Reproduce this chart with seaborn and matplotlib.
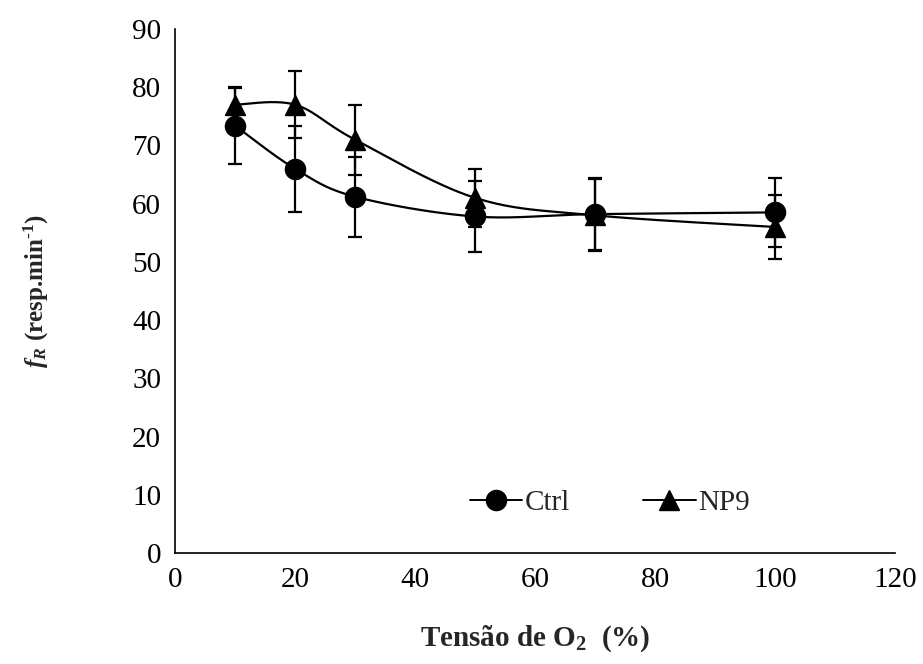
import numpy as np
import pandas as pd
import matplotlib
matplotlib.use("Agg")
import matplotlib.pyplot as plt
import seaborn as sns

# dados
tensao = [10, 20, 30, 50, 70, 100]
ctrl_media = [73.4, 66.0, 61.2, 57.8, 58.2, 58.5]
ctrl_dp = [6.5, 7.4, 6.9, 6.1, 6.2, 5.9]
np9_media = [77.0, 77.0, 71.0, 61.0, 58.0, 56.0]
np9_dp = [3.0, 5.8, 6.0, 5.0, 6.2, 5.5]


# curva suavizada estilo Excel (Catmull-Rom)
def suavizar(x, y, n=40):
    p = np.column_stack([x, y]).astype(float)
    p = np.vstack([p[0], p, p[-1]])
    out = []
    for i in range(1, len(p) - 2):
        p0, p1, p2, p3 = p[i - 1], p[i], p[i + 1], p[i + 2]
        c1 = p1 + (p2 - p0) / 6
        c2 = p2 - (p3 - p1) / 6
        t = np.linspace(0, 1, n)[:, None]
        seg = ((1 - t) ** 3) * p1 + 3 * ((1 - t) ** 2) * t * c1 + 3 * (1 - t) * t ** 2 * c2 + t ** 3 * p2
        out.append(seg if i == 1 else seg[1:])
    out = np.vstack(out)
    return out[:, 0], out[:, 1]


sns.set_style("white")
plt.rcParams["font.family"] = ["Liberation Serif", "DejaVu Serif"]
plt.rcParams["mathtext.fontset"] = "custom"
plt.rcParams["mathtext.rm"] = "Liberation Serif"
plt.rcParams["mathtext.it"] = "Liberation Serif:italic"
plt.rcParams["mathtext.bf"] = "Liberation Serif:bold"
plt.rcParams["mathtext.bfit"] = "Liberation Serif:bold:italic"

fs = 21
fig = plt.figure(figsize=(9.23, 6.64), dpi=100)
ax = fig.add_axes([0.1896, 0.1672, 0.9697 - 0.1896, 0.9563 - 0.1672])

series = [("Ctrl", ctrl_media, ctrl_dp, "o", 14.5), ("NP9", np9_media, np9_dp, "^", 14)]
handles = []
for nome, media, dp, mk, ms in series:
    xs, ys = suavizar(tensao, media)
    df = pd.DataFrame({"x": xs, "y": ys})
    sns.lineplot(data=df, x="x", y="y", ax=ax, color="black", lw=1.6, sort=False,
                 estimator=None)
    ax.errorbar(tensao, media, yerr=dp, fmt="none", ecolor="black", elinewidth=1.6,
                capsize=5, capthick=1.6)
    ax.plot(tensao, media, marker=mk, ms=ms, color="black", lw=1.6, ls="none")
    # entrada da legenda
    h, = ax.plot([], [], marker=mk, ms=ms, color="black", lw=1.4, label=nome)
    handles.append(h)

ax.set_xlim(0, 120)
ax.set_ylim(0, 90)
ax.set_xticks(range(0, 121, 20))
ax.set_yticks(range(0, 91, 10))
for s in ["top", "right"]:
    ax.spines[s].set_visible(False)
for s in ["left", "bottom"]:
    ax.spines[s].set_color("black")
    ax.spines[s].set_linewidth(1.2)
ax.tick_params(axis="both", direction="out", length=5, width=1.2, color="black",
               labelsize=fs, labelcolor="black", pad=5)

ax.set_xlabel("Tensão de O$_\\mathbf{2}$  (%)", fontsize=fs, fontweight="bold", labelpad=22)
ax.set_ylabel("$\\mathbfit{f}_{\\mathbfit{R}}$ (resp.min$^{\\mathbf{\u20101}}$)", fontsize=18,
              fontweight="bold", labelpad=58)

ax.legend(handles=handles, ncol=2, frameon=False, fontsize=fs, loc="center",
          bbox_to_anchor=(0.604, 0.095), handlelength=1.8, handletextpad=0.1,
          columnspacing=2.5)

fig.savefig("out.png", dpi=100)
